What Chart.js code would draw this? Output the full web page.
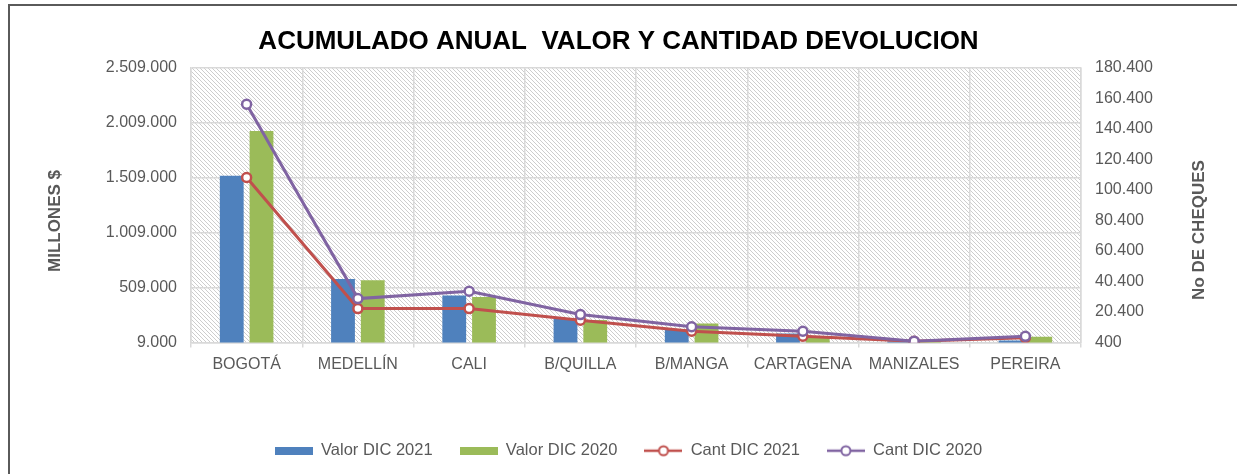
<!DOCTYPE html>
<html><head><meta charset="utf-8">
<script src="https://cdn.jsdelivr.net/npm/chart.js@4.4.1/dist/chart.umd.min.js"></script>
<style>
html,body{margin:0;padding:0;background:#fff;overflow:hidden;}
#frame{position:absolute;left:8px;top:4px;width:1260px;height:500px;border-left:2px solid #5a5a5a;border-top:2px solid #5a5a5a;}
#wrap{position:absolute;left:0;top:0;width:1237px;height:474px;}
</style></head><body>
<div id="frame"></div>
<div id="wrap"><canvas id="c" width="1237" height="474"></canvas></div>
<script>
// ---- data ----
const categories = ['BOGOTÁ','MEDELLÍN','CALI','B/QUILLA','B/MANGA','CARTAGENA','MANIZALES','PEREIRA'];
const valorDic2021 = [1527000, 588000, 436000, 225000, 127000, 90000, 20000, 27000];
const valorDic2020 = [1936000, 575000, 424000, 215000, 182000, 52000, 18000, 61000];
const cantDic2021 = [108600, 22650, 22650, 15000, 7800, 4500, 1200, 3500];
const cantDic2020 = [156600, 29200, 34000, 18700, 10700, 7800, 1300, 4500];
const seriesNames = ['Valor DIC 2021','Valor DIC 2020','Cant DIC 2021','Cant DIC 2020'];
const leftTicks = {min: 9000, max: 2509000, step: 500000};
const rightTicks = {min: 400, max: 180400, step: 20000};
const titleText = 'ACUMULADO ANUAL  VALOR Y CANTIDAD DEVOLUCION';
const leftTitle = 'MILLONES $';
const rightTitle = 'No DE CHEQUES';

const FONT = '"Liberation Sans", Arial, sans-serif';
const TXT = '#595959';
const GRID = '#d9d9d9';
const colors = ['#4f81bd','#9bbb59','#c0504d','#8064a2'];

function fmt(v){ return String(Math.round(v)).replace(/\B(?=(\d{3})+(?!\d))/g,'.'); }

function barIcon(col){
  const c=document.createElement('canvas'); c.width=38; c.height=8;
  const g=c.getContext('2d'); g.fillStyle=col; g.fillRect(0,0,38,8); return c;
}
function lineIcon(col){
  const c=document.createElement('canvas'); c.width=38; c.height=14;
  const g=c.getContext('2d'); g.strokeStyle=col; g.lineWidth=2.5;
  g.beginPath(); g.moveTo(0,7); g.lineTo(38,7); g.stroke();
  g.beginPath(); g.arc(19,7,4.5,0,Math.PI*2); g.fillStyle='#fff'; g.fill(); g.lineWidth=2; g.stroke();
  return c;
}
const icons=[barIcon(colors[0]),barIcon(colors[1]),lineIcon(colors[2]),lineIcon(colors[3])];

const hatch = {
  id:'hatch',
  afterLayout(chart){
    if(chart.legend){ chart.legend.left += 10; chart.legend.right += 10; }
  },
  beforeDraw(chart){
    const {ctx, chartArea:a} = chart;
    const p=document.createElement('canvas'); p.width=4; p.height=4;
    const g=p.getContext('2d'); g.fillStyle='#fff'; g.fillRect(0,0,4,4);
    g.strokeStyle='#cdcdcd'; g.lineWidth=1;
    g.beginPath(); g.moveTo(-1,-1); g.lineTo(5,5); g.moveTo(-1,3); g.lineTo(1,5); g.moveTo(3,-1); g.lineTo(5,1); g.stroke();
    ctx.save(); ctx.fillStyle=ctx.createPattern(p,'repeat');
    ctx.fillRect(a.left,a.top,a.right-a.left,a.bottom-a.top); ctx.restore();
  },
  afterDraw(chart){
    const ctx=chart.ctx;
    const draw=(t,x,y)=>{
      ctx.save(); ctx.translate(x,y); ctx.rotate(-Math.PI/2);
      ctx.font='bold 17px '+FONT; ctx.fillStyle=TXT; ctx.textAlign='center'; ctx.textBaseline='middle';
      ctx.fillText(t,0,0); ctx.restore();
    };
    draw(leftTitle, 55, 221);
    draw(rightTitle, 1199, 230);
  }
};

const lineDs = (i,data,order)=>({
  type:'line', label:seriesNames[i], data, yAxisID:'y1', order,
  borderColor:colors[i], borderWidth:3, tension:0, fill:false,
  pointRadius:4.5, pointBorderWidth:2.5, pointBackgroundColor:'#fff', pointBorderColor:colors[i]
});
const barDs = (i,data)=>({
  type:'bar', label:seriesNames[i], data, yAxisID:'y', order:3,
  backgroundColor:colors[i], borderWidth:0, categoryPercentage:0.535, barPercentage:0.8
});

new Chart(document.getElementById('c'),{
  data:{labels:categories, datasets:[
    barDs(0,valorDic2021), barDs(1,valorDic2020),
    lineDs(2,cantDic2021,2), lineDs(3,cantDic2020,1)
  ]},
  plugins:[hatch],
  options:{
    responsive:false, animation:false,
    layout:{padding:{top:10,left:14,right:14,bottom:5}},
    plugins:{
      tooltip:{enabled:false},
      title:{display:true,text:titleText,color:'#000',font:{family:FONT,size:26,weight:'bold'},padding:{top:16,bottom:10.8}},
      legend:{position:'bottom',
        labels:{usePointStyle:true,pointStyleWidth:38,padding:27,color:TXT,font:{family:FONT,size:16.5},
          generateLabels(chart){
            return chart.data.datasets.map((ds,i)=>({text:ds.label,fillStyle:colors[i],strokeStyle:colors[i],lineWidth:0,
              pointStyle:icons[i],hidden:false,datasetIndex:i,fontColor:TXT}));
          }}
      }
    },
    scales:{
      x:{offset:true,
        grid:{color:GRID,lineWidth:1.5,offset:true,tickLength:5,drawTicks:true},
        border:{color:GRID,width:1.5},
        ticks:{color:TXT,font:{family:FONT,size:16},padding:7,maxRotation:0,autoSkip:false},
        afterFit(s){s.height=73;}
      },
      y:{position:'left',min:leftTicks.min,max:leftTicks.max,
        ticks:{stepSize:leftTicks.step,callback:v=>fmt(v),color:TXT,font:{family:FONT,size:16},padding:14},
        grid:{color:GRID,lineWidth:1.5,drawTicks:false},
        border:{color:GRID,width:1.5},
        afterFit(s){s.width=177;}
      },
      y1:{position:'right',min:rightTicks.min,max:rightTicks.max,
        ticks:{stepSize:rightTicks.step,callback:v=>fmt(v),color:TXT,font:{family:FONT,size:16},padding:14},
        grid:{drawOnChartArea:false,drawTicks:false},
        border:{color:GRID,width:1.5},
        afterFit(s){s.width=142;}
      }
    }
  }
});
</script>
</body></html>
